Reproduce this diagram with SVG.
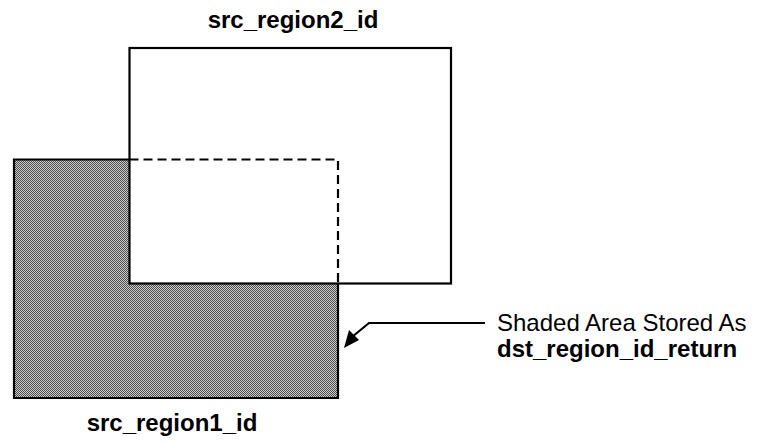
<svg xmlns="http://www.w3.org/2000/svg" width="761" height="443" viewBox="0 0 761 443">
  <style>
    .edge { fill: none; stroke: #000; stroke-width: 2.2; }
    .dash { fill: none; stroke: #000; stroke-width: 2.2; stroke-dasharray: 9 5; }
    .lbl { font-family: "Liberation Sans", Arial, Helvetica, sans-serif; font-size: 24px; fill: #000; }
    .b { font-weight: bold; }
  </style>
  <defs>
    <pattern id="dither" width="2" height="2" patternUnits="userSpaceOnUse">
      <rect width="2" height="2" fill="#cfcfcf"/>
      <rect width="1" height="1" fill="#4a4a4a"/>
      <rect x="1" y="1" width="1" height="1" fill="#4a4a4a"/>
    </pattern>
  </defs>
  <rect width="761" height="443" fill="#fff"/>

  <g id="dst_region">
    <path fill="url(#dither)" d="M14 159.5 H129.5 V284 H338 V398 H14 Z"/>
  </g>

  <g id="src_region2">
    <rect class="edge" x="129.5" y="48" width="321.5" height="235.5"/>
    <text class="lbl b" x="293" y="28" text-anchor="middle">src_region2_id</text>
  </g>

  <g id="src_region1">
    <path class="edge" d="M129.5 159.5 H14 V398 H338 V284"/>
    <path class="dash" d="M129.5 159.5 H338 V284"/>
    <text class="lbl b" x="172" y="431" text-anchor="middle">src_region1_id</text>
  </g>

  <g id="annotation">
    <text class="lbl" x="497" y="331">Shaded Area Stored As</text>
    <text class="lbl b" x="497" y="357">dst_region_id_return</text>
  </g>

  <g id="connectors">
    <path class="edge" d="M485 323 H369 L352 337"/>
    <polygon points="344,348 349,330 359,340" fill="#000"/>
  </g>
</svg>
